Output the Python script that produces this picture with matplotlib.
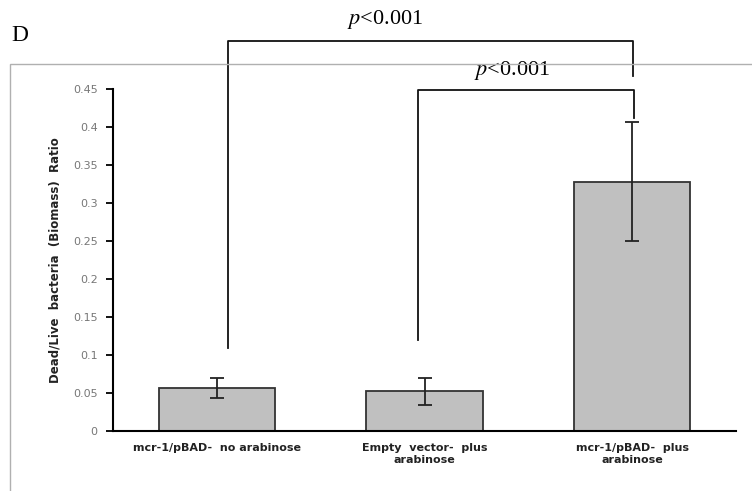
import numpy as np
import matplotlib.pyplot as plt
from matplotlib.patches import Rectangle

plt.rcParams['mathtext.fontset'] = 'stix'

# данные
groups = ['mcr-1/pBAD-  no arabinose', 'Empty  vector-  plus\narabinose', 'mcr-1/pBAD-  plus\narabinose']
ratio = [0.057, 0.052, 0.328]
err = [0.013, 0.018, 0.078]
p_labels = ['p<0.001', 'p<0.001']

fig = plt.figure(figsize=(7.52, 4.91), dpi=100)

# серая рамка вокруг графика
fig.patches.append(Rectangle((0.0133, -0.1), 1.2, 0.97, transform=fig.transFigure,
                             fill=False, edgecolor='#b0b0b0', linewidth=1.0))

ax = fig.add_axes([0.150, 0.1222, 0.829, 0.6965])
x = np.arange(len(groups))
ax.bar(x, ratio, width=0.56, color='#c0c0c0', edgecolor='#333333', linewidth=1.3, zorder=2)
ax.errorbar(x, ratio, yerr=err, fmt='none', ecolor='#222222', elinewidth=1.3,
            capsize=5, capthick=1.3, zorder=3)

ax.set_xlim(-0.5, 2.5)
ax.set_ylim(0, 0.45)
ax.set_yticks(np.arange(0, 0.46, 0.05))
ax.set_yticklabels(['0', '0.05', '0.1', '0.15', '0.2', '0.25', '0.3', '0.35', '0.4', '0.45'])
ax.set_xticks(x)
ax.set_xticklabels(groups, fontsize=8, fontweight='bold', color='#222222')
ax.tick_params(axis='x', length=0, pad=9)
ax.tick_params(axis='y', length=5, width=1.3, direction='out', labelsize=8,
               labelcolor='#777777', pad=6)
for s in ['top', 'right']:
    ax.spines[s].set_visible(False)
ax.spines['left'].set_linewidth(1.5)
ax.spines['bottom'].set_linewidth(1.5)
ax.set_ylabel('Dead/Live  bacteria  (Biomass)  Ratio', fontsize=8.5, fontweight='bold',
              color='#222222', labelpad=8)

# скобки значимости
kw = dict(color='#111111', linewidth=1.3, clip_on=False, zorder=4)
ax.plot([0.054, 0.054, 2.005, 2.005], [0.109, 0.513, 0.513, 0.467], **kw)
ax.plot([0.969, 0.969, 2.01, 2.01], [0.12, 0.449, 0.449, 0.412], **kw)

tfont = dict(family='Liberation Serif', fontsize=16, ha='center', va='center', clip_on=False)
ax.text(0.81, 0.542, r'$p$' + '<0.001', **tfont)
ax.text(1.42, 0.474, r'$p$' + '<0.001', **tfont)

fig.text(0.015, 0.928, 'D', family='Liberation Serif', fontsize=17, va='center')

plt.savefig('out.png', dpi=100)
